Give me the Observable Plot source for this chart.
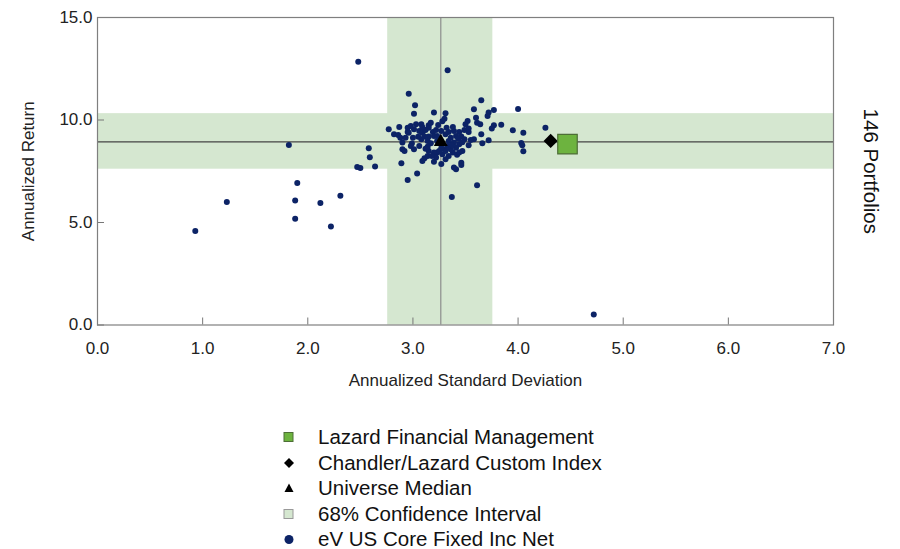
<!DOCTYPE html>
<html>
<head>
<meta charset="utf-8">
<script src="https://cdn.jsdelivr.net/npm/d3@7"></script>
<script src="https://cdn.jsdelivr.net/npm/@observablehq/plot@0.6"></script>
<style>
  body { margin: 0; background: #fff; font-family: "Liberation Sans", Arial, sans-serif; }
  #chart { width: 900px; height: 400px; }
  #legend { position: relative; width: 900px; height: 149px; }
  .row { position: absolute; left: 0; height: 25.5px; width: 900px; }
  .row svg { position: absolute; left: 279px; top: 3px; }
  .row span { position: absolute; left: 318px; top: 0; font-size: 20.5px; line-height: 25.5px; color: #111; white-space: nowrap; }
</style>
</head>
<body>
<div id="chart"></div>
<div id="legend"></div>
<script>
// ---- data ----
const xTicks = [0, 1, 2, 3, 4, 5, 6, 7];
const yTicks = [0, 5, 10, 15];
const xLabel = "Annualized Standard Deviation";
const yLabel = "Annualized Return";
const sideLabel = "146 Portfolios";

const universeStdDev = [
  2.48, 3.33, 1.82, 0.93, 1.23, 1.90, 1.88, 1.88, 2.12, 2.22, 2.31, 2.47, 2.50, 2.58, 2.59, 2.64,
  4.72, 4.26, 4.00, 4.05, 3.95, 4.03, 4.04, 4.05, 3.65, 3.58, 3.77, 3.72, 3.71, 3.61, 3.64, 3.77,
  3.84, 3.75, 3.65, 3.58, 3.72, 3.66, 3.61, 3.37, 3.41, 3.46, 3.04, 2.95, 2.89, 3.09, 3.11, 3.20,
  2.96, 3.02, 3.01, 3.20, 3.31, 3.30, 3.28, 2.77, 2.82, 2.86, 2.88, 2.95, 3.03, 2.99, 2.90, 2.92,
  3.27, 3.14, 3.23, 3.28, 3.34, 3.38, 3.42, 3.31, 3.15, 3.01, 3.06, 3.09, 3.12, 3.15, 3.19, 3.22,
  3.20, 3.15, 3.11, 3.08, 3.14, 3.17, 3.31, 3.34, 3.39, 3.44, 3.49, 3.53, 3.53, 3.36, 3.41, 3.46,
  3.49, 3.55, 3.34, 3.39, 3.44, 3.33, 3.30, 3.36, 3.41, 3.25, 3.20, 3.15, 3.22, 3.46, 3.39, 3.06,
  3.01, 2.98, 2.90, 2.93, 2.96, 2.95, 3.08, 3.17, 3.50, 3.52, 3.60, 3.44, 3.47, 3.27, 3.23, 3.27,
  3.09, 3.24, 3.38, 3.43, 3.14, 3.23, 3.05, 3.00, 3.32, 3.47, 3.37, 3.18, 3.31, 2.98, 2.87, 3.53,
  3.27, 3.12
];
const universeReturn = [
  12.84, 12.43, 8.78, 4.58, 6.00, 6.93, 6.07, 5.18, 5.95, 4.81, 6.30, 7.71, 7.66, 8.62, 8.18, 7.73,
  0.51, 9.62, 10.54, 9.38, 9.50, 8.88, 8.77, 8.48, 10.96, 10.52, 10.49, 10.36, 10.19, 9.87, 9.79, 9.74,
  9.77, 9.58, 9.30, 9.06, 9.01, 8.87, 6.82, 6.25, 7.60, 7.80, 7.39, 7.07, 7.89, 8.00, 8.14, 7.96,
  11.28, 10.72, 10.31, 10.36, 10.33, 10.06, 9.94, 9.55, 9.30, 9.27, 9.14, 9.42, 9.79, 8.85, 8.57, 8.49,
  7.85, 8.24, 8.41, 8.33, 8.25, 8.41, 8.30, 8.09, 9.74, 9.55, 9.46, 9.38, 9.51, 9.62, 9.42, 9.51,
  9.22, 9.19, 9.19, 9.06, 8.98, 8.87, 9.30, 9.42, 9.46, 9.42, 9.51, 9.58, 9.42, 9.14, 9.22, 9.19,
  9.06, 9.03, 8.98, 8.90, 8.82, 8.73, 8.57, 8.57, 8.65, 8.49, 8.41, 8.49, 8.17, 7.92, 7.68, 8.73,
  8.57, 8.73, 8.90, 9.14, 9.38, 9.62, 9.79, 9.87, 9.79, 9.95, 10.11, 8.41, 8.49, 8.82, 9.22, 9.46,
  9.65, 9.76, 9.66, 9.08, 8.69, 8.98, 9.18, 9.13, 9.62, 8.92, 8.77, 8.24, 8.49, 9.71, 9.66, 8.77,
  8.64, 8.60
];

const ciStdDev = [2.76, 3.76];
const ciReturn = [7.60, 10.31];

const medianPoint = [{name: "Universe Median", sd: 3.265, ret: 8.93}];
const indexPoint = [{name: "Chandler/Lazard Custom Index", sd: 4.31, ret: 8.98}];
const portfolioPoint = [{name: "Lazard Financial Management", sd: 4.47, ret: 8.82}];

const legendItems = [
  "Lazard Financial Management",
  "Chandler/Lazard Custom Index",
  "Universe Median",
  "68% Confidence Interval",
  "eV US Core Fixed Inc Net"
];

// ---- colors ----
const navy = "#0c2366";
const bandFill = "#d5e7d0";
const green = "#6db33f";

const universe = universeStdDev.map((sd, i) => ({sd, ret: universeReturn[i]}));

const W = 900, H = 400;
const mL = 97, mR = 67, mT = 17, mB = 75.5;
const innerW = W - mL - mR, innerH = H - mT - mB;

const chart = Plot.plot({
  width: W,
  height: H,
  marginLeft: mL,
  marginRight: mR,
  marginTop: mT,
  marginBottom: mB,
  style: {fontFamily: "'Liberation Sans', Arial, sans-serif", fontSize: "17px", color: "#222", background: "#fff"},
  x: {domain: [0, 7]},
  y: {domain: [0, 15]},
  marks: [
    Plot.rect([ciStdDev], {x1: d => d[0], x2: d => d[1], fill: bandFill}),
    Plot.rect([ciReturn], {y1: d => d[0], y2: d => d[1], fill: bandFill}),
    Plot.ruleX(medianPoint, {x: "sd", stroke: "#8c8c8c", strokeWidth: 1.2}),
    Plot.ruleY(medianPoint, {y: "ret", stroke: "#444", strokeWidth: 1.2}),
    Plot.tickX(xTicks, {x: d => d, insetTop: innerH - 7, stroke: "#777"}),
    Plot.tickY(yTicks, {y: d => d, insetRight: innerW - 7, stroke: "#777"}),
    Plot.frame({stroke: "#7f7f7f", strokeWidth: 1.2}),
    Plot.axisX({ticks: xTicks, tickFormat: d3.format(".1f"), tickSize: 0, tickPadding: 17, label: null}),
    Plot.axisY({ticks: yTicks, tickFormat: d3.format(".1f"), tickSize: 0, tickPadding: 5, label: null}),
    Plot.dot(universe, {x: "sd", y: "ret", r: 3, fill: navy}),
    Plot.dot(medianPoint, {x: "sd", y: "ret", symbol: "triangle", r: 5.2, fill: "#000"}),
    Plot.dot(indexPoint, {x: "sd", y: "ret", symbol: "diamond2", r: 6.4, fill: "#000"}),
    Plot.dot(portfolioPoint, {x: "sd", y: "ret", symbol: "square", r: 11, fill: green, stroke: "#4d6e36", strokeWidth: 1.2}),
    Plot.text([xLabel], {text: d => d, frameAnchor: "bottom", dy: 61, fontSize: 17, fill: "#222"}),
    Plot.text([yLabel], {text: d => d, frameAnchor: "left", textAnchor: "middle", dx: -69, rotate: -90, fontSize: 17, fill: "#222"}),
    Plot.text([sideLabel], {text: d => d, frameAnchor: "right", textAnchor: "middle", dx: 37, rotate: 90, fontSize: 20.5, fill: "#111"})
  ]
});
document.getElementById("chart").appendChild(chart);

// ---- legend ----
const markerSvgs = [
  `<svg width="20" height="20"><rect x="5" y="5.5" width="9" height="9" fill="${green}" stroke="#4d6e36" stroke-width="1"/></svg>`,
  `<svg width="20" height="20"><path d="M10,5 L15,10 L10,15 L5,10 Z" fill="#000"/></svg>`,
  `<svg width="20" height="20"><path d="M10,5.5 L14.5,14 L5.5,14 Z" fill="#000"/></svg>`,
  `<svg width="20" height="20"><rect x="5" y="5.5" width="9" height="9" fill="${bandFill}" stroke="#999" stroke-width="1"/></svg>`,
  `<svg width="20" height="20"><circle cx="10" cy="10.5" r="4.5" fill="${navy}"/></svg>`
];
const legend = document.getElementById("legend");
legendItems.forEach((label, i) => {
  const row = document.createElement("div");
  row.className = "row";
  row.style.top = (24.2 + i * 25.5) + "px";
  row.innerHTML = markerSvgs[i] + `<span>${label}</span>`;
  legend.appendChild(row);
});
</script>
</body>
</html>
